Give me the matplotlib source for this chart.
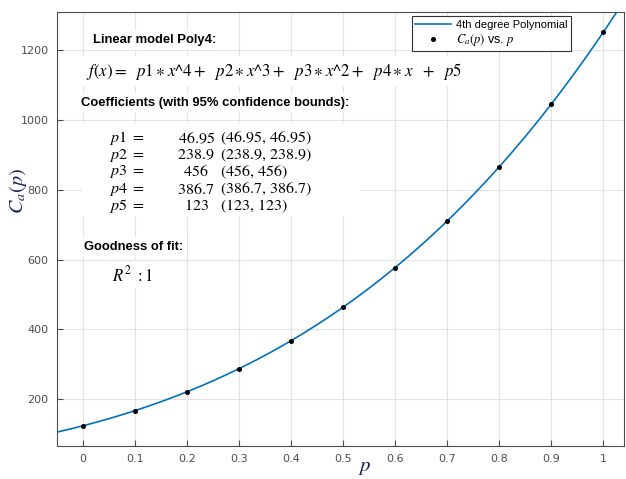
import numpy as np
import matplotlib
matplotlib.use("Agg")
import matplotlib.pyplot as plt
import matplotlib.patches as mpatches

plt.rcParams['mathtext.fontset'] = 'stix'

# ---- data ----
p_vals = [0.0, 0.1, 0.2, 0.3, 0.4, 0.5, 0.6, 0.7, 0.8, 0.9, 1.0]
ca_vals = [123, 166.5, 220.6, 286.9, 367.1, 463.1, 576.9, 710.3, 865.8, 1045.4, 1251.6]
coef_names = ["p1", "p2", "p3", "p4", "p5"]
coef_vals = [46.95, 238.9, 456, 386.7, 123]
coef_text = ["46.95", "238.9", "456", "386.7", "123"]
coef_bounds = ["(46.95, 46.95)", "(238.9, 238.9)", "(456, 456)", "(386.7, 386.7)", "(123, 123)"]
x_ticks = [0, 0.1, 0.2, 0.3, 0.4, 0.5, 0.6, 0.7, 0.8, 0.9, 1]
x_ticklabels = ["0", "0.1", "0.2", "0.3", "0.4", "0.5", "0.6", "0.7", "0.8", "0.9", "1"]
y_ticks = [200, 400, 600, 800, 1000, 1200]

label_color = '#1c2558'

fig = plt.figure(figsize=(6.26, 4.79), dpi=100)
ax = fig.add_axes([57/626, 1 - 446/479, 567/626, 434/479])

xx = np.linspace(-0.05, 1.04, 300)
ax.plot(xx, np.polyval(coef_vals, xx), color='#0072BD', lw=1.2, label='4th degree Polynomial', zorder=3)
ax.plot(p_vals, ca_vals, 'o', color='black', ms=2.6, label=r'$C_a(p)$ vs. $p$', zorder=4)

ax.set_xlim(-0.05, 1.04)
ax.set_ylim(65, 1310)
ax.set_xticks(x_ticks)
ax.set_xticklabels(x_ticklabels)
ax.set_yticks(y_ticks)
ax.grid(True, color='#e3e3e3', lw=0.8)
ax.set_axisbelow(True)
ax.tick_params(direction='in', length=4, width=0.8, colors='#4d4d4d', labelsize=8,
               top=False, right=False, pad=6)
for s in ax.spines.values():
    s.set_color('#4d4d4d')
    s.set_linewidth(0.8)

ax.set_xlabel(r'$p$', fontsize=15, color=label_color, va='center')
ax.set_ylabel(r'$C_a(p)$', fontsize=14.5, color=label_color)
ax.xaxis.set_label_coords(0.543, -0.049)
ax.yaxis.set_label_coords(-0.049, 0.588)

leg = ax.legend(loc='upper right', bbox_to_anchor=(0.907, 0.99),
                prop={'family': 'Liberation Sans', 'size': 8},
                fancybox=False, framealpha=1, edgecolor='#333333', borderpad=0.3,
                handlelength=3.2, handletextpad=0.5, labelspacing=0.2, borderaxespad=0)
leg.get_frame().set_linewidth(0.8)
leg.get_texts()[1].set_fontsize(9)

def fx(px):
    return (px - 57) / 567

def fy(py):
    return (446 - py) / 434

bbox = dict(facecolor='white', edgecolor='none', pad=3)
bold = dict(family='Liberation Sans', fontweight='bold', fontsize=9.4, color='black')

ax.text(fx(93), fy(40), 'Linear model Poly4:', transform=ax.transAxes, va='center', ha='left',
        bbox=bbox, zorder=5, **bold)
formula = (r'$f(x) =\ \ p1\ast x\text{^}4 +\ \ p2\ast x\text{^}3 +\ \ p3\ast x\text{^}2 +'
           r'\ \ p4\ast x\ \ +\ \ p5$')
ax.text(fx(86), fy(71), formula,
        transform=ax.transAxes, va='center', ha='left', fontsize=12.2, bbox=bbox, zorder=5)
ax.text(fx(81), fy(103), 'Coefficients (with 95% confidence bounds):', transform=ax.transAxes,
        va='center', ha='left', bbox=bbox, zorder=5, **bold)

row_y = [138, 155, 172, 189, 206]
for name, val, bnd, y in zip(coef_names, coef_text, coef_bounds, row_y):
    ax.text(fx(109), fy(y), r'$%s\ =$' % name, transform=ax.transAxes, va='center', ha='left',
            fontsize=11.5, zorder=6)
    ax.text(fx(196), fy(y), r'$%s$' % val, transform=ax.transAxes, va='center', ha='center',
            fontsize=11.5, zorder=6)
    ax.text(fx(220), fy(y), r'$%s$' % bnd.replace(' ', r'\,'), transform=ax.transAxes,
            va='center', ha='left', fontsize=11.5, zorder=6)

# white panel behind coefficients
ax.add_patch(mpatches.Rectangle((fx(82), fy(217)), fx(360) - fx(82), fy(123) - fy(217),
                                transform=ax.transAxes, facecolor='white', edgecolor='none', zorder=5))

ax.text(fx(84), fy(247), 'Goodness of fit:', transform=ax.transAxes, va='center', ha='left',
        bbox=bbox, zorder=5, **bold)
ax.text(fx(112), fy(275), r'$R^2\ : 1$', transform=ax.transAxes, va='center', ha='left',
        fontsize=12, bbox=bbox, zorder=5)

fig.savefig('out.png', dpi=100)
